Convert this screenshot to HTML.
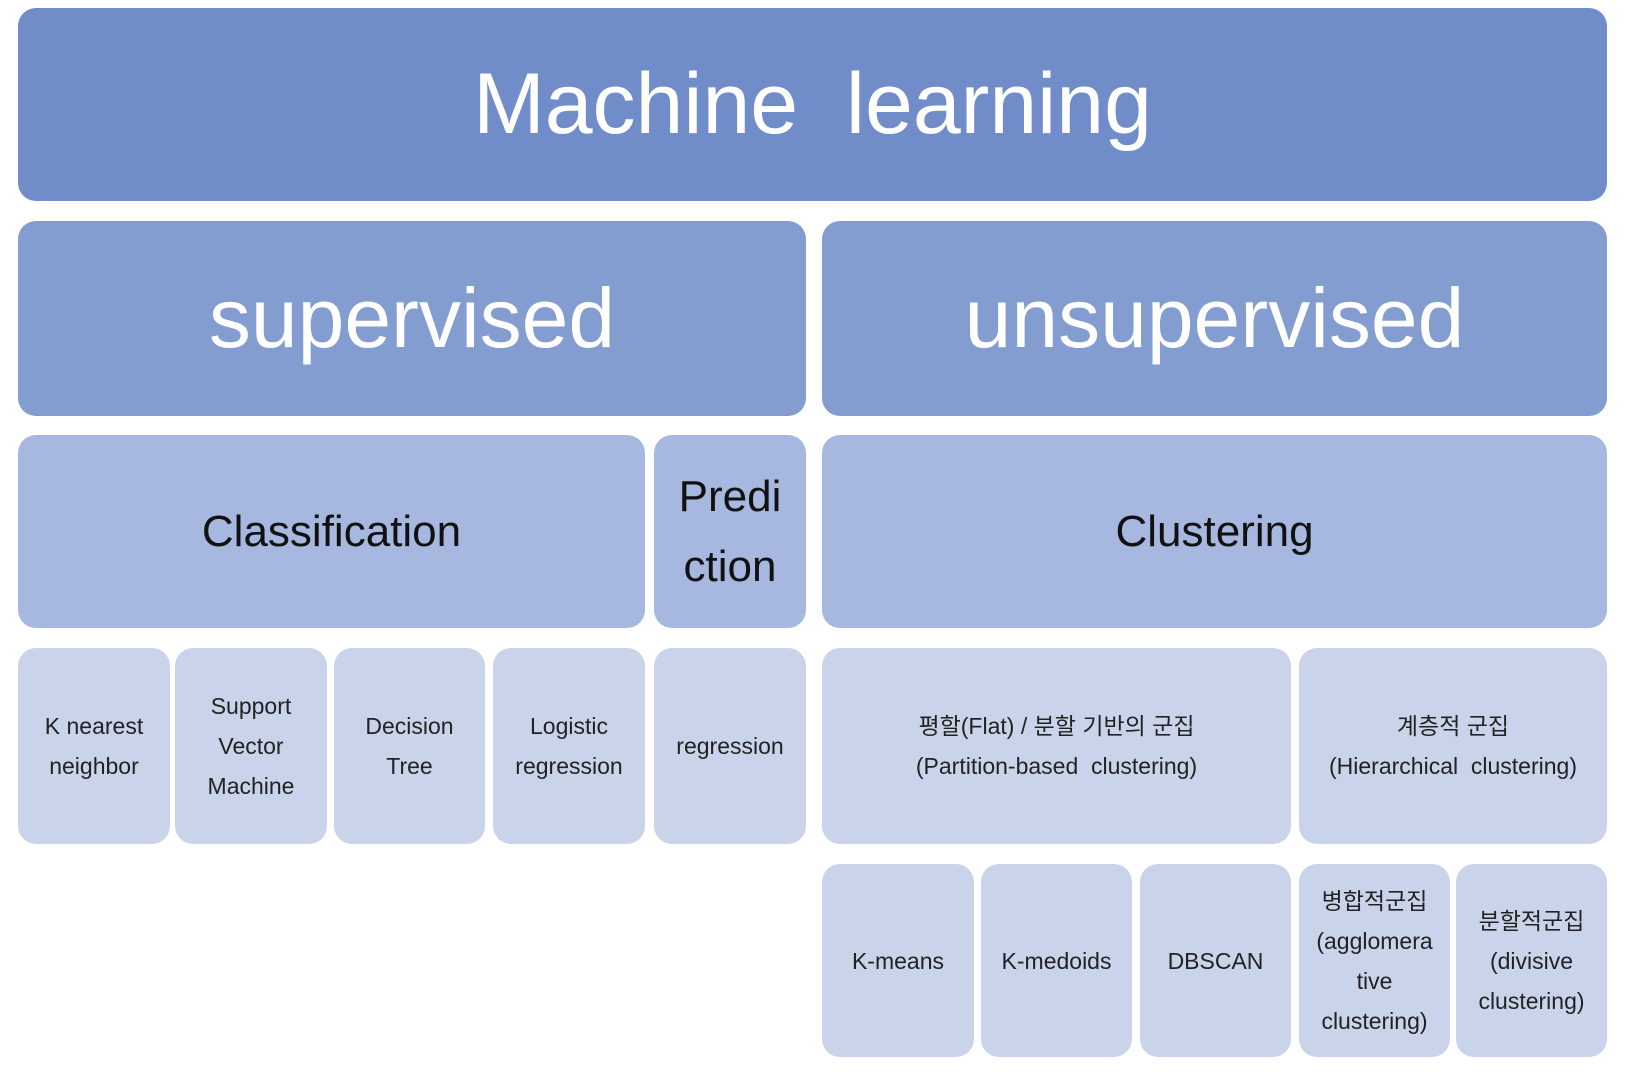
<!DOCTYPE html>
<html><head><meta charset="utf-8"><style>
body{margin:0;width:1626px;height:1080px;background:#fff;position:relative;overflow:hidden;font-family:"Liberation Sans","Noto Sans CJK KR",sans-serif}
.b{position:absolute;border-radius:18px;display:flex;align-items:center;justify-content:center;text-align:center;box-sizing:border-box}
.r1{background:#718dc9;color:#fff;font-size:86px}
.r2{background:#839dd1;color:#fff;font-size:84px}
.r3{background:#a6b8df;color:#111;font-size:44px;line-height:70px}
.r4{background:#c9d4eb;color:#222;font-size:23px;line-height:40px}
</style></head><body>
<div class="b r1" style="left:18px;top:8px;width:1589px;height:193px">Machine&nbsp; learning</div>
<div class="b r2" style="left:18px;top:221px;width:788px;height:195px">supervised</div>
<div class="b r2" style="left:822px;top:221px;width:785px;height:195px">unsupervised</div>
<div class="b r3" style="left:18px;top:435px;width:627px;height:193px">Classification</div>
<div class="b r3" style="left:654px;top:435px;width:152px;height:193px">Predi<br>ction</div>
<div class="b r3" style="left:822px;top:435px;width:785px;height:193px">Clustering</div>
<div class="b r4" style="left:18px;top:648px;width:152px;height:196px">K nearest<br>neighbor</div>
<div class="b r4" style="left:175px;top:648px;width:152px;height:196px">Support<br>Vector<br>Machine</div>
<div class="b r4" style="left:334px;top:648px;width:151px;height:196px">Decision<br>Tree</div>
<div class="b r4" style="left:493px;top:648px;width:152px;height:196px">Logistic<br>regression</div>
<div class="b r4" style="left:654px;top:648px;width:152px;height:196px">regression</div>
<div class="b r4" style="left:822px;top:648px;width:469px;height:196px">평할(Flat) / 분할 기반의 군집<br>(Partition-based&nbsp; clustering)</div>
<div class="b r4" style="left:1299px;top:648px;width:308px;height:196px">계층적 군집<br>(Hierarchical&nbsp; clustering)</div>
<div class="b r4" style="left:822px;top:864px;width:152px;height:193px">K-means</div>
<div class="b r4" style="left:981px;top:864px;width:151px;height:193px">K-medoids</div>
<div class="b r4" style="left:1140px;top:864px;width:151px;height:193px">DBSCAN</div>
<div class="b r4" style="left:1299px;top:864px;width:151px;height:193px">병합적군집<br>(agglomera<br>tive<br>clustering)</div>
<div class="b r4" style="left:1456px;top:864px;width:151px;height:193px">분할적군집<br>(divisive<br>clustering)</div>
</body></html>
